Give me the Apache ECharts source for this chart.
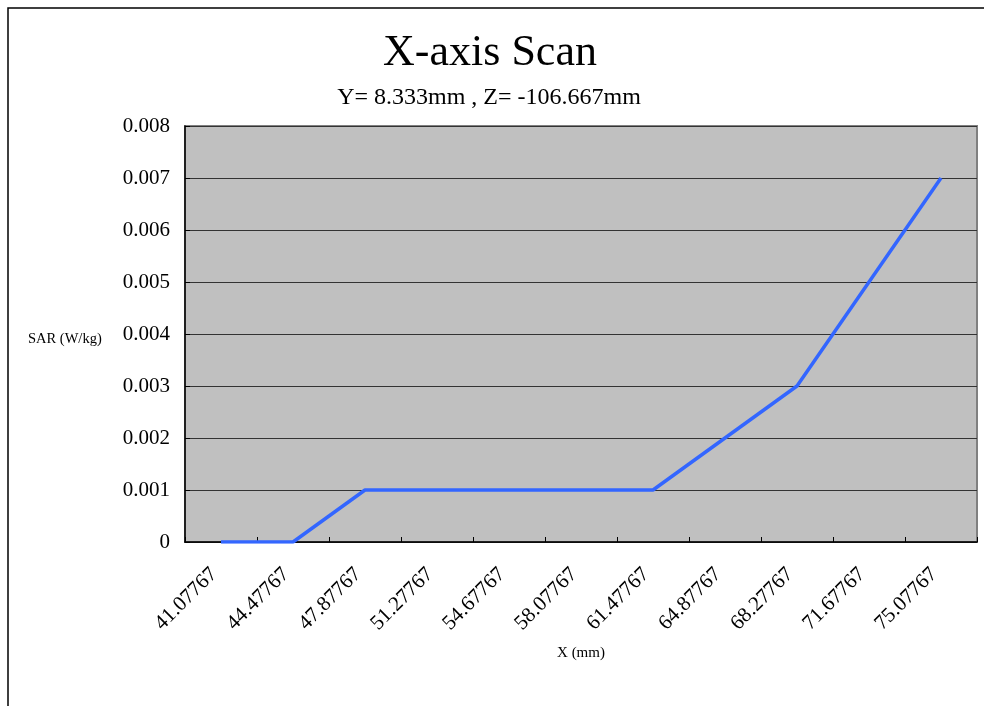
<!DOCTYPE html>
<html><head><meta charset="utf-8">
<script src="https://cdn.jsdelivr.net/npm/echarts@6/dist/echarts.min.js"></script>
<style>html,body{margin:0;padding:0;background:#fff}#c{width:984px;height:706px}</style>
</head><body><div id="c"></div>
<script>
const categories = ['41.07767','44.47767','47.87767','51.27767','54.67767','58.07767','61.47767','64.87767','68.27767','71.67767','75.07767'];
const sarValues = [0,0,0.001,0.001,0.001,0.001,0.001,0.002,0.003,0.005,0.007];
const yTicks = [0,0.001,0.002,0.003,0.004,0.005,0.006,0.007,0.008];

const font = '"Liberation Serif","DejaVu Serif",serif';
const chart = echarts.init(document.getElementById('c'), null, {renderer:'canvas'});
chart.setOption({
  animation:false,
  backgroundColor:'#fff',
  graphic:[
    {type:'rect', shape:{x:8,y:8,width:1000,height:800}, style:{fill:'none',stroke:'#000',lineWidth:1.5}, z:-1},
    {type:'rect', shape:{x:185,y:126,width:792,height:416}, style:{fill:'none',stroke:'#808080',lineWidth:2}, z:0},
    {type:'text', left:28, top:332, style:{text:'SAR (W/kg)', font:'14.5px '+font, fill:'#000'}}
  ],
  title:[
    {text:'X-axis Scan', left:485, textAlign:'center', top:26, textStyle:{fontFamily:font, fontSize:44, fontWeight:'normal', color:'#000'}},
    {text:'Y= 8.333mm , Z= -106.667mm', left:484, textAlign:'center', top:81, textStyle:{fontFamily:font, fontSize:24, fontWeight:'normal', color:'#000'}}
  ],
  grid:{left:185, top:126, width:792, height:416, show:true, backgroundColor:'#c0c0c0', borderWidth:0},
  xAxis:{
    type:'category', data:categories, boundaryGap:true,
    name:'X (mm)', nameLocation:'middle', nameGap:104,
    nameTextStyle:{fontFamily:font, fontSize:15, color:'#000'},
    axisLine:{lineStyle:{color:'#000', width:1.5}},
    axisTick:{show:true, inside:true, length:5, alignWithLabel:false, lineStyle:{color:'#000'}},
    axisLabel:{rotate:45, fontFamily:font, fontSize:21, color:'#000', margin:22, interval:0, padding:[0,10,0,0]},
    splitLine:{show:false}
  },
  yAxis:{
    type:'value', min:0, max:0.008, interval:0.001,
    axisLine:{show:true, lineStyle:{color:'#000', width:1.5}},
    axisTick:{show:true, inside:true, length:5, lineStyle:{color:'#000'}},
    axisLabel:{fontFamily:font, fontSize:21, color:'#000', margin:15,
      formatter:function(v){ const t=yTicks.find(x=>Math.abs(x-v)<1e-9); return t===0?'0':(t!==undefined?t.toFixed(3):''); }},
    splitLine:{show:true, lineStyle:{color:'#333', width:1}}
  },
  series:[{
    type:'line', data:sarValues, symbol:'none',
    lineStyle:{color:'#3366ff', width:3.5}
  }]
});
</script></body></html>
